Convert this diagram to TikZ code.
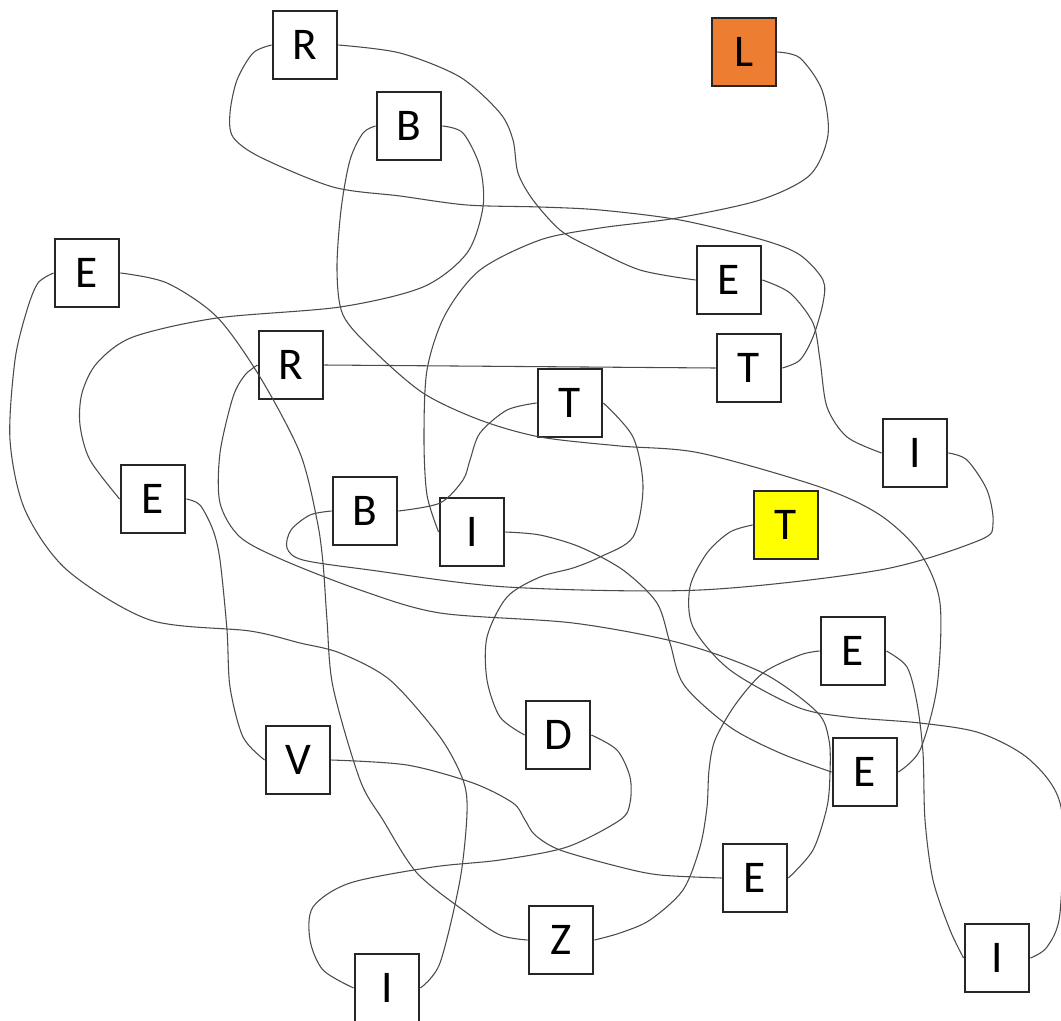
\documentclass[tikz,border=0pt]{standalone}
\usepackage{fontspec}
\setmainfont{Carlito}
\definecolor{boxorange}{HTML}{ED7D31}
\definecolor{boxyellow}{HTML}{FFFF00}
\definecolor{linkgray}{HTML}{4A4A4A}
\tikzset{
  box/.style={draw=black!85, line width=2.1pt, fill=white, minimum width=48pt, minimum height=51pt, inner sep=0pt, font=\fontsize{34}{34}\selectfont},
  link/.style={draw=linkgray, line width=0.8pt}
}
\begin{document}
\begin{tikzpicture}[x=0.75pt,y=-0.75pt]
\useasboundingbox (0,0) rectangle (1061,1021);
% boxes
\node[box] (R1) at (305,45) {R};
\node[box, fill=boxorange] (L) at (744,52) {L};
\node[box] (B1) at (409,126) {B};
\node[box] (E1) at (87,273) {E};
\node[box] (E2) at (729,280) {E};
\node[box] (R2) at (291,365) {R};
\node[box] (T1) at (749,368) {T};
\node[box] (T2) at (570,403) {T};
\node[box] (I1) at (915,453) {I};
\node[box] (E3) at (153,499) {E};
\node[box] (B2) at (365,511) {B};
\node[box] (I2) at (472,532) {I};
\node[box, fill=boxyellow] (TY) at (786,525) {T};
\node[box] (E4) at (853,651) {E};
\node[box] (D) at (558,735) {D};
\node[box] (V) at (298,760) {V};
\node[box] (E5) at (865,772) {E};
\node[box] (E6) at (755,878) {E};
\node[box] (Z) at (561,940) {Z};
\node[box] (I3) at (997,958) {I};
\node[box] (I4) at (387,988) {I};
% connectors
% L -> I
\draw[link] plot[smooth, tension=0.5] coordinates {(L.east) (800,58) (822,90) (828,135) (810,175) (760,200) (677,218) (600,228) (540,240) (480,270) (445,315) (427,370) (424,440) (427,495) (I2.west)};
% I -> E
\draw[link] plot[smooth, tension=0.5] coordinates {(I2.east) (540,535) (580,547) (623,570) (657,603) (670,643) (684,685) (730,727) (780,753) (E5.west)};
% E -> B
\draw[link] plot[smooth, tension=0.5] coordinates {(E5.east) (920,750) (937,687) (940,603) (920,553) (880,515) (820,487) (700,453) (620,446) (540,437) (480,420) (423,393) (373,350) (343,315) (337,270) (341,210) (350,160) (363,133) (B1.west)};
% B -> E
\draw[link] plot[smooth, tension=0.5] coordinates {(B1.east) (463,133) (480,167) (483,207) (467,253) (423,287) (340,307) (217,318) (133,337) (97,363) (82,393) (80,425) (90,460) (E3.west)};
% E -> V
\draw[link] plot[smooth, tension=0.5] coordinates {(E3.east) (200,505) (213,530) (220,560) (227,630) (230,687) (243,737) (V.west)};
% V -> E
\draw[link] plot[smooth, tension=0.5] coordinates {(V.east) (407,765) (473,783) (513,803) (525,820) (535,835) (560,850) (620,867) (660,875) (E6.west)};
% E -> R
\draw[link] plot[smooth, tension=0.5] coordinates {(E6.east) (813,850) (827,807) (830,773) (829,740) (817,712) (763,673) (680,643) (573,623) (440,613) (360,590) (283,560) (240,537) (220,503) (220,453) (233,397) (245,375) (R2.west)};
% R -> T
\draw[link] (R2.east) -- (T1.west);
% T -> R
\draw[link] plot[smooth, tension=0.5] coordinates {(T1.east) (800,360) (813,337) (823,303) (823,280) (800,255) (763,240) (680,220) (600,210) (540,207) (467,205) (400,196) (333,187) (260,157) (233,137) (230,113) (237,80) (253,53) (R1.west)};
% R -> E
\draw[link] plot[smooth, tension=0.5] coordinates {(R1.east) (400,53) (460,77) (500,113) (513,140) (518,173) (533,200) (560,230) (590,247) (640,270) (E2.west)};
% E -> I
\draw[link] plot[smooth, tension=0.5] coordinates {(E2.east) (790,293) (813,323) (820,360) (827,407) (847,437) (I1.west)};
% I -> B
\draw[link] plot[smooth, tension=0.5] coordinates {(I1.east) (967,460) (987,490) (993,523) (980,540) (880,570) (700,590) (507,587) (370,570) (303,560) (287,548) (291,530) (310,515) (B2.west)};
% B -> T
\draw[link] plot[smooth, tension=0.5] coordinates {(B2.east) (440,503) (463,480) (470,460) (480,433) (507,410) (T2.west)};
% T -> D
\draw[link] plot[smooth, tension=0.5] coordinates {(T2.east) (633,437) (643,487) (633,537) (600,557) (573,568) (540,577) (507,597) (487,637) (487,680) (500,717) (D.west)};
% D -> I
\draw[link] plot[smooth, tension=0.5] coordinates {(D.east) (617,750) (630,777) (630,803) (620,820) (567,847) (500,860) (433,867) (350,883) (313,907) (310,940) (323,970) (I4.west)};
% I -> E
\draw[link] plot[smooth, tension=0.5] coordinates {(I4.east) (440,963) (460,880) (467,813) (463,780) (440,737) (390,680) (340,653) (300,643) (250,631) (150,620) (67,570) (25,510) (10,440) (15,360) (27,310) (38,283) (E1.west)};
% E -> Z
\draw[link] plot[smooth, tension=0.5] coordinates {(E1.east) (167,283) (217,317) (260,377) (300,453) (317,520) (323,563) (327,620) (333,687) (360,780) (383,820) (417,873) (467,913) (500,935) (Z.west)};
% Z -> E
\draw[link] plot[smooth, tension=0.5] coordinates {(Z.east) (620,933) (650,920) (683,890) (700,847) (707,807) (709,770) (715,740) (735,705) (763,673) (800,655) (E4.west)};
% E -> I
\draw[link] plot[smooth, tension=0.5] coordinates {(E4.east) (907,667) (917,703) (923,753) (925,820) (933,880) (950,930) (I3.west)};
% I -> T
\draw[link] plot[smooth, tension=0.5] coordinates {(I3.east) (1047,947) (1060,913) (1061,807) (1030,760) (980,733) (920,723) (847,717) (797,707) (730,670) (693,627) (690,587) (707,553) (730,532) (TY.west)};
\end{tikzpicture}
\end{document}
